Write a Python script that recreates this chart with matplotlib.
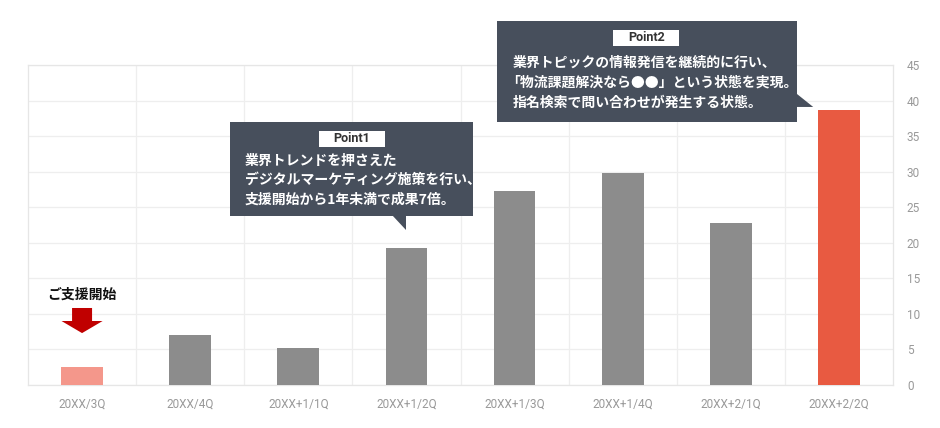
import matplotlib.pyplot as plt
from matplotlib.patches import Rectangle, Polygon

plt.rcParams['font.family'] = ['Noto Sans CJK JP', 'DejaVu Sans']

# データ
quarters = ["20XX/3Q", "20XX/4Q", "20XX+1/1Q", "20XX+1/2Q",
            "20XX+1/3Q", "20XX+1/4Q", "20XX+2/1Q", "20XX+2/2Q"]
values = [2.6, 7.0, 5.2, 19.3, 27.3, 29.8, 22.8, 38.7]
bar_colors = ["#F4978B", "#8C8C8C", "#8C8C8C", "#8C8C8C",
              "#8C8C8C", "#8C8C8C", "#8C8C8C", "#E85A41"]
y_ticks = [0, 5, 10, 15, 20, 25, 30, 35, 40, 45]

point1_lines = ["業界トレンドを押さえた",
                "デジタルマーケティング施策を行い、",
                "支援開始から1年未満で成果7倍。"]
point2_lines = ["業界トピックの情報発信を継続的に行い、",
                "「物流課題解決なら●●」という状態を実現。",
                "指名検索で問い合わせが発生する状態。"]

box_color = "#474F5C"

fig = plt.figure(figsize=(9.4, 4.28), dpi=100)
ax = fig.add_axes([28 / 940, 43 / 428, 865 / 940, 320 / 428])

x = list(range(len(quarters)))
ax.bar(x, values, width=0.385, color=bar_colors, zorder=3)

ax.set_xlim(-0.5, len(quarters) - 0.5)
ax.set_ylim(0, 45)
ax.set_xticks(x)
ax.set_xticklabels(quarters, family="Roboto", fontsize=8.5, color="#999999")
ax.set_xticks([i + 0.5 for i in x[:-1]], minor=True)
ax.yaxis.tick_right()
ax.set_yticks(y_ticks)
ax.set_yticklabels([str(v) for v in y_ticks], family="Roboto", fontsize=8.5, color="#999999")
ax.tick_params(axis="both", which="both", length=0)
ax.tick_params(axis="x", pad=9)
ax.tick_params(axis="y", pad=10)
ax.grid(axis="y", which="major", color="#EEEEEE", lw=0.9, zorder=0)
ax.grid(axis="x", which="minor", color="#EEEEEE", lw=0.9, zorder=0)
for s in ax.spines.values():
    s.set_color("#E6E6E6")
    s.set_linewidth(0.9)


def callout(x0, x1, y0, y1, tail, title, title_xy, lines, text_x, text_y, dy):
    ax.add_patch(Rectangle((x0, y0), x1 - x0, y1 - y0, facecolor=box_color,
                           edgecolor="none", clip_on=False, zorder=5))
    ax.add_patch(Polygon(tail, closed=True, facecolor=box_color,
                         edgecolor="none", clip_on=False, zorder=5))
    # タイトルの白ラベル
    tw, th = 0.61, 2.25
    ax.add_patch(Rectangle((title_xy[0] - tw / 2, title_xy[1] - th / 2), tw, th,
                           facecolor="white", edgecolor="none", clip_on=False, zorder=6))
    ax.text(title_xy[0], title_xy[1], title, ha="center", va="center",
            family="Roboto", fontsize=9, fontweight="bold", color="#333333",
            zorder=7, clip_on=False)
    for i, line in enumerate(lines):
        lx = text_x
        if line.startswith("「"):
            lx -= 0.064  # 全角括弧の左余白を詰める
        ax.text(lx, text_y - i * dy, line, ha="left", va="center",
                fontsize=10, fontweight="bold", color="white", zorder=7,
                clip_on=False)


# Point1 (4本目付近)
callout(1.369, 3.617, 23.77, 37.0,
        [(2.864, 23.9), (2.997, 23.9), (2.997, 21.8)],
        "Point1", (2.497, 34.6), point1_lines, 1.507, 31.5, 2.7)

# Point2 (最後の棒)
callout(3.839, 6.614, 37.0, 51.2,
        [(6.6, 41.07), (6.762, 39.1), (6.6, 39.1)],
        "Point2", (5.217, 48.8), point2_lines, 3.987, 45.3, 2.81)

# ご支援開始 + 矢印
ax.text(0, 12.7, "ご支援開始", ha="center", va="center", fontsize=10,
        fontweight="bold", color="#111111", zorder=6)
arrow = [(-0.0925, 10.83), (0.0925, 10.83), (0.0925, 9.0), (0.19, 9.0),
         (0, 7.3), (-0.19, 9.0), (-0.0925, 9.0)]
ax.add_patch(Polygon(arrow, closed=True, facecolor="#C00000", edgecolor="none", zorder=6))

fig.savefig("out.png", dpi=100)
